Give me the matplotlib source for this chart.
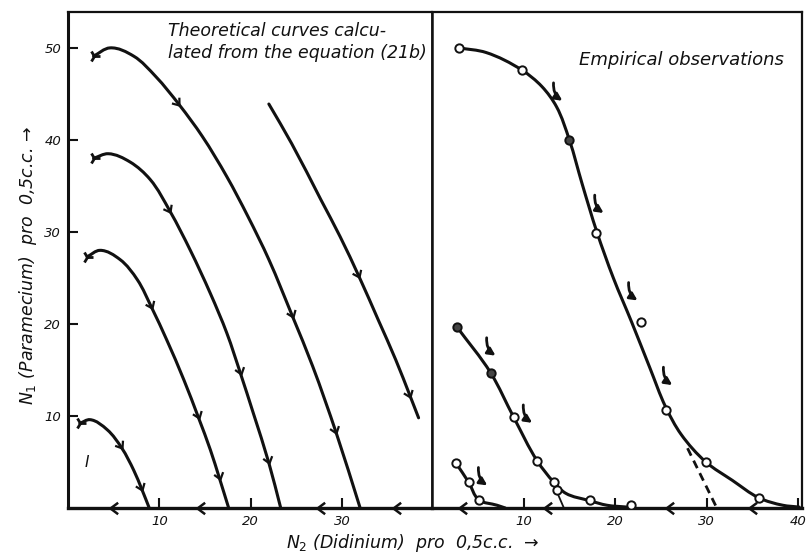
import numpy as np
import matplotlib
matplotlib.use("Agg")
import matplotlib.pyplot as plt
from matplotlib.path import Path
from matplotlib.patches import PathPatch
from matplotlib.markers import MarkerStyle
from matplotlib.transforms import Affine2D

# ---------------- data ----------------
# Left panel: theoretical curves  (N2 = Didinium, N1 = Paramecium)
theo_A_x = [2.8, 4.6, 7.2, 9.6, 12.2, 14.7, 17.4, 19.7, 22.0, 24.6, 26.8, 29.4, 32.0]
theo_A_y = [49.1, 50.0, 49.1, 46.9, 43.8, 40.4, 36.0, 31.7, 27.0, 20.8, 15.4, 8.1, 0.0]
theo_B_x = [2.8, 4.4, 6.8, 9.0, 11.2, 13.4, 15.6, 17.4, 18.9, 20.3, 22.0, 23.3]
theo_B_y = [38.0, 38.5, 37.6, 35.7, 32.2, 28.0, 23.3, 19.0, 14.6, 10.3, 4.9, 0.0]
theo_C_x = [2.1, 3.5, 5.7, 7.6, 9.2, 10.8, 12.7, 14.3, 15.6, 16.6, 17.6]
theo_C_y = [27.3, 28.0, 27.0, 24.8, 21.7, 18.3, 13.9, 9.8, 6.3, 3.2, 0.0]
theo_D_x = [1.3, 2.4, 4.3, 5.9, 7.2, 8.1, 8.9]
theo_D_y = [9.2, 9.6, 8.5, 6.5, 4.1, 2.0, 0.0]
theo_E_x = [22.0, 24.5, 27.7, 29.8, 31.9, 34.0, 35.9, 37.5, 38.4]
theo_E_y = [43.9, 39.6, 33.5, 29.5, 25.1, 20.4, 16.1, 12.1, 9.8]

theo_curves = [(theo_A_x, theo_A_y), (theo_B_x, theo_B_y), (theo_C_x, theo_C_y),
               (theo_D_x, theo_D_y), (theo_E_x, theo_E_y)]
theo_has_start = [True, True, True, True, False]
theo_arrows = [  # (curve index, x, y)
    (0, 12.2, 43.8), (0, 24.6, 20.8), (0, 29.4, 8.1),
    (1, 11.2, 32.2), (1, 18.9, 14.6), (1, 22.0, 4.9),
    (2, 9.2, 21.7), (2, 14.3, 9.8), (2, 16.6, 3.2),
    (3, 5.9, 6.5), (3, 8.1, 2.0),
    (4, 31.9, 25.1), (4, 37.5, 12.1),
]
left_axis_arrows = [4.6, 14.1, 27.3, 35.6]

# Right panel: empirical observations
emp1_line_x = [2.95, 5.9, 9.8, 12.0, 13.6, 15.0, 16.4, 18.0, 19.8, 21.8, 23.8, 25.5, 27.2, 29.9, 32.8, 35.7, 38.3, 40.1]
emp1_line_y = [50.0, 49.5, 47.6, 45.8, 43.6, 40.0, 35.2, 30.0, 25.0, 20.2, 15.2, 11.0, 8.0, 5.0, 3.0, 1.1, 0.3, 0.1]
emp1_obs_x = [2.95, 9.8, 17.9, 22.8, 25.6, 29.9, 35.7]
emp1_obs_y = [50.0, 47.6, 29.9, 20.2, 10.6, 5.0, 1.1]
emp1_fill_x = [15.0]
emp1_fill_y = [40.0]
emp1_dash_x = [27.9, 31.1]
emp1_dash_y = [6.5, 0.0]

emp2_line_x = [2.7, 6.4, 8.9, 11.5, 13.3, 14.6, 17.2, 19.1, 21.3]
emp2_line_y = [19.7, 14.7, 9.9, 5.1, 2.8, 1.6, 0.8, 0.3, 0.1]
emp2_obs_x = [8.9, 11.5, 13.3, 13.7, 17.2, 21.7]
emp2_obs_y = [9.9, 5.1, 2.8, 2.0, 0.9, 0.3]
emp2_fill_x = [2.7, 6.4]
emp2_fill_y = [19.7, 14.7]
emp2_ext_x = [13.1, 14.4]
emp2_ext_y = [3.0, 0.0]

emp3_line_x = [2.6, 4.0, 5.1, 7.1, 8.0]
emp3_line_y = [4.9, 2.8, 0.9, 0.3, 0.0]
emp3_obs_x = [2.6, 4.0, 5.1]
emp3_obs_y = [4.9, 2.8, 0.9]

emp_hook_arrows = [(14.1, 45.4), (18.6, 33.2), (22.3, 23.7), (26.1, 14.5),
                   (6.8, 17.7), (10.8, 10.4), (5.9, 3.6)]
right_axis_arrows = [3.0, 12.2, 25.6, 34.6]

left_xticks = [10, 20, 30]
right_xticks = [10, 20, 30, 40]
yticks = [10, 20, 30, 40, 50]

# ---------------- figure ----------------
W, H = 808, 557
fig = plt.figure(figsize=(W / 100, H / 100), dpi=100)
INK = "#111111"
FONT = dict(family="DejaVu Sans", style="italic")

axL = fig.add_axes([68 / W, 1 - 508 / H, 364 / W, 496 / H])
axR = fig.add_axes([432 / W, 1 - 508 / H, 370 / W, 496 / H])
axL.set_xlim(0, 39.87)
axR.set_xlim(0, 40.4)
for ax in (axL, axR):
    ax.set_ylim(0, 53.9)
    for s in ax.spines.values():
        s.set_color(INK)
    ax.spines["top"].set_linewidth(1.6)
    ax.spines["bottom"].set_linewidth(2.4)
    ax.spines["left"].set_linewidth(2.2)
    ax.spines["right"].set_linewidth(1.6)
    ax.tick_params(direction="in", length=7, width=1.5, colors=INK,
                   labelsize=9.5, pad=5)
    ax.tick_params(axis="x", top=False)
    ax.tick_params(axis="y", right=False)

axL.set_xticks(left_xticks)
axL.set_xticklabels([str(t) for t in left_xticks], **FONT)
axL.set_yticks(yticks)
axL.set_yticklabels([str(t) for t in yticks], **FONT)
axR.set_xticks(right_xticks)
axR.set_xticklabels([str(t) for t in right_xticks], **FONT)
axR.set_yticks([])
axR.spines["left"].set_linewidth(1.8)
axL.spines["right"].set_linewidth(1.8)

chev = Path([(-1.0, 0.75), (0.0, 0.0), (-1.0, -0.75)],
            [Path.MOVETO, Path.LINETO, Path.LINETO])


def chevron(ax, x, y, angle_deg, size=9, mew=1.6):
    m = MarkerStyle(chev, fillstyle="none",
                    transform=Affine2D().rotate_deg(angle_deg))
    ax.plot([x], [y], marker=m, markersize=size, markeredgewidth=mew,
            color=INK, linestyle="none", zorder=5, clip_on=False)


def smooth_path(xs, ys):
    """Smooth cubic Bezier path through the read points (chord-length tangents)."""
    P = np.column_stack([xs, ys]).astype(float)
    n = len(P)
    seg = P[1:] - P[:-1]
    d = np.hypot(seg[:, 0], seg[:, 1])
    u = seg / d[:, None]
    T = np.zeros_like(P)
    T[0] = u[0]
    T[-1] = u[-1]
    for i in range(1, n - 1):
        t = u[i - 1] + u[i]
        T[i] = t / np.hypot(*t)
    verts = [P[0]]
    codes = [Path.MOVETO]
    for i in range(n - 1):
        c1 = P[i] + T[i] * d[i] / 3.0
        c2 = P[i + 1] - T[i + 1] * d[i] / 3.0
        verts += [c1, c2, P[i + 1]]
        codes += [Path.CURVE4] * 3
    return Path(verts, codes)


def draw_curve(ax, xs, ys, lw=2.2, ls="-"):
    path = smooth_path(xs, ys)
    ax.add_patch(PathPatch(path, facecolor="none", edgecolor=INK, lw=lw,
                           linestyle=ls, capstyle="round", joinstyle="round"))
    return path


def arrow_on_path(ax, path, px, py):
    poly = path.to_polygons(closed_only=False)[0]
    pts = ax.transData.transform(poly)
    p = ax.transData.transform((px, py))
    best = None
    for i in range(len(pts) - 1):
        a, b = pts[i], pts[i + 1]
        dd = b - a
        if np.dot(dd, dd) == 0:
            continue
        t = np.clip(np.dot(p - a, dd) / np.dot(dd, dd), 0, 1)
        q = a + t * dd
        dist = np.hypot(*(p - q))
        if best is None or dist < best[0]:
            best = (dist, q, dd)
    _, q, dd = best
    ang = np.degrees(np.arctan2(dd[1], dd[0]))
    qx, qy = ax.transData.inverted().transform(q)
    chevron(ax, qx, qy, ang)


# Left panel curves
paths = []
for (cx, cy), start in zip(theo_curves, theo_has_start):
    paths.append(draw_curve(axL, cx, cy))
    if start:
        axL.plot([cx[0]], [cy[0]], marker="4", markersize=9,
                 markeredgewidth=2, color=INK)
for ci, x, y in theo_arrows:
    arrow_on_path(axL, paths[ci], x, y)
for x in left_axis_arrows:
    chevron(axL, x, 0, 180, size=11, mew=1.8)
axL.text(2.1, 4.9, "I", fontsize=11, color=INK, ha="center", va="center", **FONT)
axL.text(11.0, 52.8, "Theoretical curves calcu-\nlated from the equation (21b)",
         fontsize=12.5, color=INK, ha="left", va="top", linespacing=1.25, **FONT)

# Right panel curves
for lx, ly in [(emp1_line_x, emp1_line_y), (emp2_line_x, emp2_line_y),
               (emp3_line_x, emp3_line_y)]:
    draw_curve(axR, lx, ly)
axR.plot(emp1_dash_x, emp1_dash_y, color=INK, lw=2.0, linestyle=(0, (3, 2)))
axR.plot(emp2_ext_x, emp2_ext_y, color=INK, lw=1.3)
for ox, oy in [(emp1_obs_x, emp1_obs_y), (emp2_obs_x, emp2_obs_y),
               (emp3_obs_x, emp3_obs_y)]:
    axR.plot(ox, oy, "o", markersize=6, markerfacecolor="white",
             markeredgecolor=INK, markeredgewidth=1.4, zorder=6)
for fx, fy in [(emp1_fill_x, emp1_fill_y), (emp2_fill_x, emp2_fill_y)]:
    axR.plot(fx, fy, "o", markersize=6, markerfacecolor="#444444",
             markeredgecolor=INK, markeredgewidth=1.4, zorder=6)
for x, y in emp_hook_arrows:
    axR.annotate("", xy=(x + 0.4, y - 1.3), xytext=(x - 0.8, y + 1.1),
                 arrowprops=dict(arrowstyle="-|>", lw=2.0, color=INK,
                                 mutation_scale=11,
                                 connectionstyle="arc3,rad=0.35"))
for x in right_axis_arrows:
    chevron(axR, x, 0, 180, size=11, mew=1.8)
axR.text(16.1, 48.7, "Empirical observations", fontsize=13, color=INK,
         ha="left", va="center", **FONT)

# Axis labels
fig.text(413 / W, 1 - 543 / H, r"$N_2$ (Didinium)  pro  0,5c.c.  →",
         fontsize=12.5, color=INK, ha="center", va="center", **FONT)
fig.text(28 / W, 1 - 265 / H, r"$N_1$ (Paramecium)  pro  0,5c.c. →",
         fontsize=12.5, color=INK, ha="center", va="center", rotation=90, **FONT)

fig.savefig("out.png", dpi=100, facecolor="white")
